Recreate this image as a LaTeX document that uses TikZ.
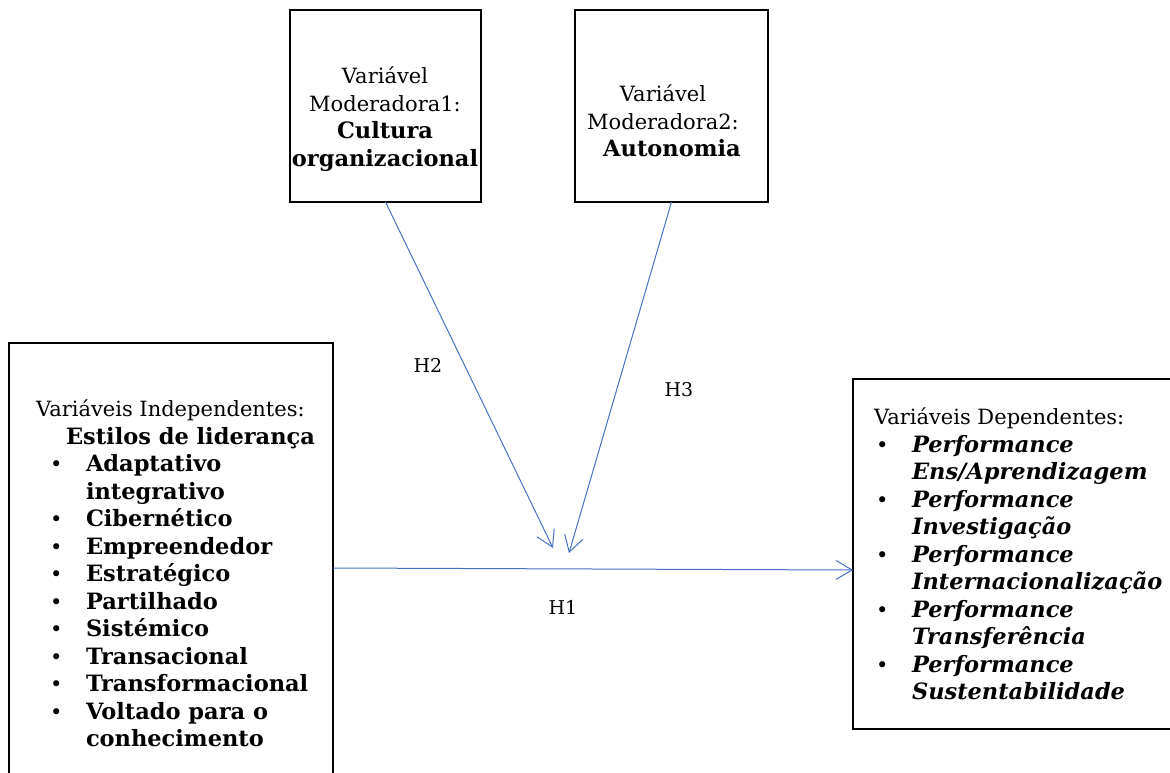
\documentclass[tikz,border=0pt]{standalone}
\usepackage{fontspec}
\setmainfont{DejaVu Serif}
\usetikzlibrary{arrows.meta}
\definecolor{linkblue}{HTML}{4472C4}
\tikzset{
  box/.style={draw=black, line width=2pt, inner sep=0pt, outer sep=0pt},
  txt/.style={inner sep=0pt, outer sep=0pt, font=\fontsize{21pt}{27.5pt}\selectfont},
  hyp/.style={draw=linkblue, line width=1pt, -{Straight Barb[length=16pt,width=19pt,line width=1pt]}},
  hlabel/.style={inner sep=0pt, font=\fontsize{19pt}{23pt}\selectfont}
}
% bold and bold-italic entries are set a little larger than the plain text
\newcommand{\B}[1]{{\fontsize{22.5pt}{27.5pt}\selectfont\bfseries #1}}
\newcommand{\BI}[1]{{\fontsize{22.5pt}{27.5pt}\selectfont\bfseries\itshape #1}}
\newcommand{\itm}[1]{\makebox[36pt][l]{\textbullet}#1}
\newcommand{\cnt}[1]{\hspace*{36pt}#1}
\begin{document}
\begin{tikzpicture}[x=1pt, y=-1pt]
\useasboundingbox (0,0) rectangle (1170,773);

% boxes
\node[box, minimum width=191pt, minimum height=192pt] (mod1) at (385.5,106) {};
\node[box, minimum width=193pt, minimum height=192pt] (mod2) at (671.5,106) {};
\node[box, minimum width=324pt, minimum height=460pt, anchor=north west] (indep) at (9,343) {};
\node[box, minimum width=340pt, minimum height=350pt, anchor=north west] (dep) at (853,379) {};

% moderator texts
\node[txt, align=center, anchor=north] (mod1t) at (385,67)
  {Variável\\Moderadora1:\\\B{Cultura}\\\B{organizacional}};
\node[txt, align=center, anchor=north] (mod2t) at (663,85)
  {Variável\\Moderadora2:\\\hspace*{18pt}\B{Autonomia}};

% independent variables
\node[txt, align=left, anchor=north west] (indept) at (36,400)
  {Variáveis Independentes:\\
   \hspace*{30pt}\B{Estilos de liderança}\\
   \hspace*{14pt}\itm{\B{Adaptativo}}\\
   \hspace*{14pt}\cnt{\B{integrativo}}\\
   \hspace*{14pt}\itm{\B{Cibernético}}\\
   \hspace*{14pt}\itm{\B{Empreendedor}}\\
   \hspace*{14pt}\itm{\B{Estratégico}}\\
   \hspace*{14pt}\itm{\B{Partilhado}}\\
   \hspace*{14pt}\itm{\B{Sistémico}}\\
   \hspace*{14pt}\itm{\B{Transacional}}\\
   \hspace*{14pt}\itm{\B{Transformacional}}\\
   \hspace*{14pt}\itm{\B{Voltado para o}}\\
   \hspace*{14pt}\cnt{\B{conhecimento}}};

% dependent variables
\node[txt, align=left, anchor=north west] (dept) at (874,408)
  {Variáveis Dependentes:\\
   \hspace*{2pt}\itm{\BI{Performance}}\\
   \hspace*{2pt}\cnt{\BI{Ens/Aprendizagem}}\\
   \hspace*{2pt}\itm{\BI{Performance}}\\
   \hspace*{2pt}\cnt{\BI{Investigação}}\\
   \hspace*{2pt}\itm{\BI{Performance}}\\
   \hspace*{2pt}\cnt{\BI{Internacionalização}}\\
   \hspace*{2pt}\itm{\BI{Performance}}\\
   \hspace*{2pt}\cnt{\BI{Transferência}}\\
   \hspace*{2pt}\itm{\BI{Performance}}\\
   \hspace*{2pt}\cnt{\BI{Sustentabilidade}}};

% connector end points
\coordinate (h1s) at (333,568);
\coordinate (h1e) at (853,570);
\coordinate (h2e) at (553,548);
\coordinate (h3e) at (569,553);

% hypotheses
\draw[hyp] (mod1.south) -- (h2e);
\draw[hyp] (mod2.south) -- (h3e);
\draw[hyp] (h1s) -- (h1e);

\node[hlabel] (h2) at (428,365) {H2};
\node[hlabel] (h3) at (679,390) {H3};
\node[hlabel] (h1) at (563,607) {H1};
\end{tikzpicture}
\end{document}
